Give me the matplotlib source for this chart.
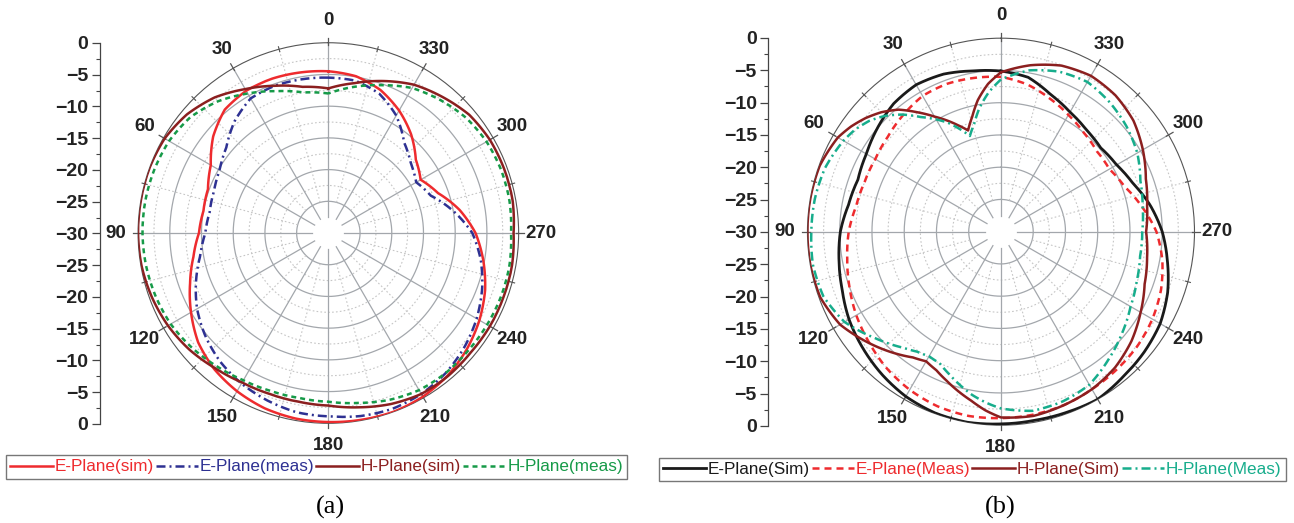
import numpy as np
import matplotlib
matplotlib.use('Agg')
import matplotlib.pyplot as plt

plt.rcParams['font.family'] = ['Liberation Sans', 'DejaVu Sans']

# ---- data (dB vs angle in degrees) ----
ang_a = list(range(0, 361, 10))
a_e_sim = [-4.5, -4.3, -4.1, -4.1, -4.6, -6.3, -8.6, -9.8, -10.0, -9.6,
           -8.4, -6.8, -5.0, -3.2, -2.0, -1.2, -0.6, -0.3, -0.2, -0.1,
           0.0, -0.2, -0.7, -1.5, -2.5, -3.7, -5.2, -6.8, -9.0, -11.6,
           -13.2, -12.0, -9.7, -7.7, -6.0, -4.9, -4.5]
a_e_meas = [-5.5, -5.4, -5.3, -5.5, -7.0, -9.0, -10.2, -10.8, -11.0, -10.6,
            -9.5, -7.8, -6.1, -4.7, -3.5, -2.6, -1.9, -1.3, -1.1, -0.7,
            -0.5, -0.7, -1.2, -2.0, -3.0, -4.2, -5.6, -7.3, -10.0, -12.8,
            -14.0, -13.0, -11.4, -8.6, -6.6, -5.6, -5.5]
a_h_sim = [-7.2, -6.6, -5.3, -3.8, -2.1, -0.9, -0.2, 0.0, 0.0, 0.0,
           -0.1, -0.4, -0.8, -1.4, -2.2, -2.8, -3.0, -3.0, -2.8, -2.1,
           -1.3, -0.7, -0.6, -0.7, -0.6, -0.6, -0.6, -0.8, -0.5, -0.5,
           -0.6, -1.0, -2.0, -3.0, -4.5, -6.0, -7.2]
a_h_meas = [-8.0, -7.5, -6.2, -4.6, -2.9, -1.6, -1.0, -0.8, -0.7, -0.7,
            -0.8, -1.0, -1.3, -1.9, -2.6, -3.2, -3.5, -3.6, -3.4, -2.8,
            -2.0, -1.4, -1.2, -1.2, -1.1, -1.0, -1.0, -1.2, -1.0, -1.0,
            -1.2, -1.7, -2.6, -3.6, -5.2, -6.6, -8.0]

ang_b = list(range(0, 361, 10))
b_e_sim = [-5.1, -4.7, -4.0, -3.7, -4.1, -5.0, -5.9, -6.4, -6.0, -5.1,
           -4.5, -3.8, -2.8, -2.0, -1.2, -0.5, -0.1, 0.0, -0.2, -0.3,
           -0.2, 0.0, -0.6, -1.0, -1.5, -2.5, -3.8, -5.0, -6.5, -8.2,
           -9.3, -9.8, -9.4, -8.6, -7.4, -5.7, -5.1]
b_e_meas = [-6.0, -5.8, -5.6, -5.7, -6.4, -7.1, -7.5, -7.5, -7.2, -6.4,
            -5.8, -5.0, -4.1, -3.3, -2.4, -1.7, -1.2, -1.0, -1.1, -1.2,
            -1.4, -1.8, -2.1, -2.4, -2.9, -3.6, -4.6, -5.9, -7.8, -9.6,
            -10.6, -10.6, -10.0, -9.1, -8.0, -6.8, -6.0]
ang_b_h = [0, 5, 10, 14, 18, 22, 26, 30, 35, 40, 45, 50, 55, 60, 70, 80, 90,
           100, 110, 120, 130, 140, 145, 150, 155, 160, 165, 170, 175, 180,
           190, 200, 210, 220, 230, 240, 250, 260, 270, 280, 290, 300, 310,
           320, 330, 340, 350, 360]
b_h_sim = [-5.3, -7.0, -9.3, -11.6, -13.5, -12.2, -10.8, -9.4, -7.4, -5.3,
           -3.8, -2.6, -1.6, -0.8, -0.1, 0.0, 0.0, 0.0, -0.2, -1.2,
           -3.2, -5.2, -6.2, -6.8, -6.3, -5.4, -4.4, -3.4, -2.2, -1.2,
           -1.0, -1.4, -1.8, -2.5, -3.6, -5.0, -6.3, -7.0, -7.5, -7.0,
           -6.1, -4.6, -3.2, -2.4, -2.1, -2.6, -3.8, -5.3]
b_h_meas = [-6.4, -8.3, -10.6, -12.8, -14.4, -12.8, -11.2, -9.9, -8.3, -6.3,
            -4.6, -3.3, -2.4, -1.8, -1.0, -0.7, -0.6, -0.4, -0.7, -2.0,
            -4.4, -6.5, -7.3, -7.7, -7.5, -6.5, -5.4, -4.3, -3.4, -2.6,
            -1.8, -2.0, -2.6, -4.1, -5.5, -6.8, -7.6, -8.1, -8.1, -7.7,
            -7.0, -5.6, -4.6, -3.8, -3.2, -3.6, -4.6, -6.4]

angle_labels = ['0', '30', '60', '90', '120', '150', '180',
                '210', '240', '270', '300', '330']
side_ticks = list(range(0, 61, 5))

fig = plt.figure(figsize=(12.94, 5.23), dpi=100)

GRID = '#a3a7ac'
GRID_DOT = '#c6c6c6'


def setup_polar(rect):
    ax = fig.add_axes(rect, projection='polar')
    ax.set_theta_zero_location('N')
    ax.set_theta_direction(1)
    ax.set_ylim(-30, 0)
    ax.grid(False)
    ax.set_xticks([])
    ax.set_yticks([])
    ax.spines['polar'].set_color('#555555')
    ax.spines['polar'].set_linewidth(0.8)
    full = np.linspace(0, 2 * np.pi, 361)
    for r in range(-25, 0, 5):
        ax.plot(full, np.full_like(full, r), color=GRID, lw=0.9, zorder=1)
    for r in np.arange(-22.5, 0, 5):
        ax.plot(full, np.full_like(full, r), color=GRID_DOT, lw=0.8,
                ls=(0, (1.5, 2)), zorder=1)
    for a in range(0, 360, 30):
        t = np.deg2rad(a)
        ax.plot([t, t], [-27.5, 0], color=GRID, lw=0.9, zorder=1)
        ax.plot([t, t], [-0.4, 0.8], color='#555555', lw=0.9, clip_on=False)
    for a in range(15, 360, 30):
        t = np.deg2rad(a)
        ax.plot([t, t], [-25, 0], color=GRID_DOT, lw=0.8,
                ls=(0, (1.5, 2)), zorder=1)
        ax.plot([t, t], [-0.4, 0.4], color='#555555', lw=0.8, clip_on=False)
    for a, lab in zip(range(0, 360, 30), angle_labels):
        ax.text(np.deg2rad(a), 3.5, lab, ha='center', va='center',
                fontsize=13.5, fontweight='bold', color='#222222',
                clip_on=False)
    return ax


def setup_side(rect):
    s = fig.add_axes(rect)
    for k in ['right', 'top', 'bottom']:
        s.spines[k].set_visible(False)
    s.spines['left'].set_color('#444444')
    s.spines['left'].set_linewidth(0.9)
    s.set_ylim(0, 60)
    s.set_xticks([])
    s.set_yticks(side_ticks)
    s.set_yticks(np.arange(2.5, 60, 5), minor=True)
    labs = []
    for p in side_ticks:
        v = abs(p - 30) - 30
        labs.append('0' if v == 0 else '\u2212%d' % abs(v))
    s.set_yticklabels(labs, fontsize=14, fontweight='bold', color='#222222')
    s.tick_params(axis='y', which='major', length=5.5, width=0.9,
                  color='#444444', pad=2.5)
    s.tick_params(axis='y', which='minor', length=3, width=0.8,
                  color='#444444')
    s.patch.set_visible(False)
    return s


def polar_line(ax, ang, vals, **kw):
    line, = ax.plot(np.deg2rad(ang), vals, zorder=3, **kw)
    # let the polar transform draw each segment along theta/r
    line.get_path()._interpolation_steps = 16
    return line


# ---- (a) ----
axa = setup_polar([0.1067, 0.1906, 0.2941, 0.7277])
setup_side([0.0769, 0.1893, 0.0001, 0.7285])
la = [
    polar_line(axa, ang_a, a_e_sim, color='#ee2b2e', lw=1.8,
               label='E-Plane(sim)'),
    polar_line(axa, ang_a, a_e_meas, color='#2e3192', lw=1.8,
               dashes=(3.6, 1.6, 0.8, 1.6), label='E-Plane(meas)'),
    polar_line(axa, ang_a, a_h_sim, color='#8b1f1f', lw=1.8,
               label='H-Plane(sim)'),
    polar_line(axa, ang_a, a_h_meas, color='#169a48', lw=1.8,
               dashes=(2.0, 1.6), label='H-Plane(meas)'),
]

# ---- (b) ----
axb = setup_polar([0.6240, 0.1870, 0.2991, 0.7400])
setup_side([0.5935, 0.1855, 0.0001, 0.7419])
lb = [
    polar_line(axb, ang_b, b_e_sim, color='#1a1a1a', lw=2.0,
               label='E-Plane(Sim)'),
    polar_line(axb, ang_b, b_e_meas, color='#ee2b2e', lw=1.8,
               dashes=(2.8, 2.0), label='E-Plane(Meas)'),
    polar_line(axb, ang_b_h, b_h_sim, color='#8b1f1f', lw=1.8,
               label='H-Plane(Sim)'),
    polar_line(axb, ang_b_h, b_h_meas, color='#17ad8c', lw=1.8,
               dashes=(3.6, 1.6, 0.8, 1.6), label='H-Plane(Meas)'),
]

for handles, cx, cy in [(la, 0.2446, 0.1071), (lb, 0.7515, 0.1023)]:
    leg = fig.legend(handles=handles, loc='center', bbox_to_anchor=(cx, cy),
                     ncol=4, fontsize=12.3, frameon=True, fancybox=False,
                     edgecolor='#777777', framealpha=1, borderpad=0.25,
                     handlelength=2.5, handletextpad=0.1, columnspacing=0.1,
                     borderaxespad=0, labelcolor='linecolor')
    leg.get_frame().set_linewidth(1.0)

fig.text(0.255, 0.030, '(a)', ha='center', va='center', fontsize=19,
         family='Liberation Serif')
fig.text(0.773, 0.030, '(b)', ha='center', va='center', fontsize=19,
         family='Liberation Serif')

fig.savefig('out.png', dpi=100)
